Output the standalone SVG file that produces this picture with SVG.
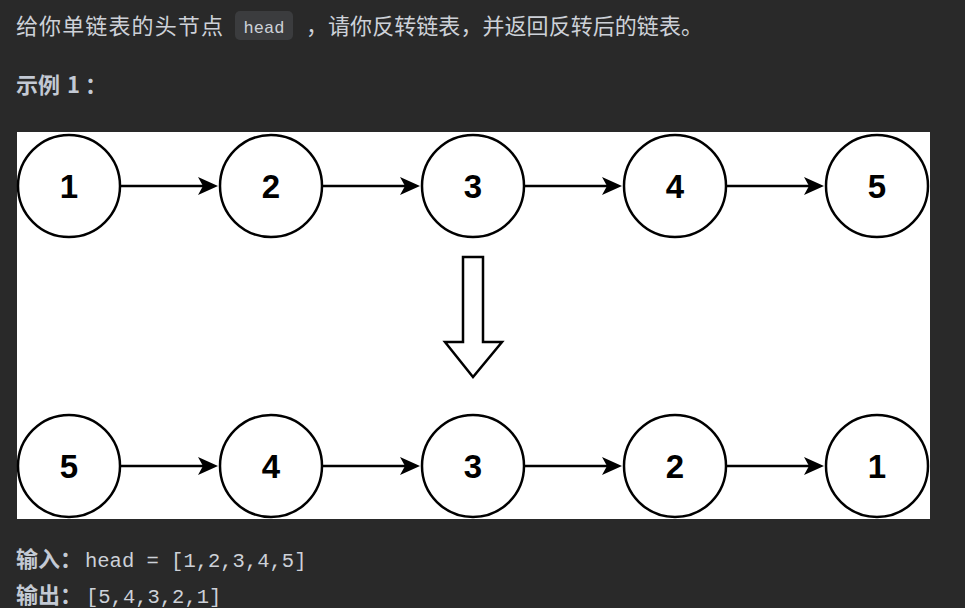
<svg xmlns="http://www.w3.org/2000/svg" width="965" height="608" viewBox="0 0 965 608">
  <style>
    .txt { font-family: "Noto Sans CJK SC", "Noto Sans", sans-serif; font-size: 22px; fill: #cdd1d8; }
    .bold { font-weight: bold; fill: #c3c9d4; }
    .mono { font-family: "Liberation Mono", "DejaVu Sans Mono", monospace; fill: #cdd1d8; }
    .node circle { fill: #ffffff; stroke: #000000; stroke-width: 2.5; }
    .node text { font-family: "Liberation Sans", Arial, sans-serif; font-size: 33px; font-weight: bold; fill: #000000; text-anchor: middle; }
    .edge { stroke: #000000; stroke-width: 2.5; fill: none; marker-end: url(#arrow); }
  </style>
  <defs>
    <marker id="arrow" markerUnits="userSpaceOnUse" viewBox="0 0 20 18" refX="15" refY="9" markerWidth="20" markerHeight="18" orient="auto">
      <path d="M0,0 L20,9 L0,18 L5,9 Z" fill="#000000"/>
    </marker>
  </defs>

  <!-- page background -->
  <rect x="0" y="0" width="965" height="608" fill="#292929"/>

  <!-- description line -->
  <text class="txt" x="16" y="34" textLength="207" lengthAdjust="spacing">给你单链表的头节点</text>
  <rect x="235" y="11" width="58" height="29" rx="5" fill="#3b3c3e"/>
  <text class="mono" x="264" y="33" font-size="17" text-anchor="middle">head</text>
  <text class="txt" x="306" y="34" textLength="397" lengthAdjust="spacing">，请你反转链表，并返回反转后的链表。</text>

  <text class="txt bold" x="16" y="93">示例<tspan x="67">1</tspan><tspan x="85">：</tspan></text>

  <!-- figure canvas -->
  <rect x="17" y="132" width="913" height="387" fill="#ffffff"/>

  <g id="connectors">
    <line class="edge" x1="121" y1="186" x2="213" y2="186"/>
    <line class="edge" x1="323" y1="186" x2="415" y2="186"/>
    <line class="edge" x1="525" y1="186" x2="617" y2="186"/>
    <line class="edge" x1="727" y1="186" x2="819" y2="186"/>

    <line class="edge" x1="121" y1="466" x2="213" y2="466"/>
    <line class="edge" x1="323" y1="466" x2="415" y2="466"/>
    <line class="edge" x1="525" y1="466" x2="617" y2="466"/>
    <line class="edge" x1="727" y1="466" x2="819" y2="466"/>

    <!-- hollow "reverse" arrow -->
    <path d="M463,257 L483,257 L483,342 L502,342 L473,377 L445,342 L463,342 Z" fill="#ffffff" stroke="#000000" stroke-width="2.5" stroke-linejoin="miter"/>
  </g>

  <!-- original list -->
  <g id="top-1" class="node"><circle cx="69" cy="186" r="51"/><text x="69" y="198">1</text></g>
  <g id="top-2" class="node"><circle cx="271" cy="186" r="51"/><text x="271" y="198">2</text></g>
  <g id="top-3" class="node"><circle cx="473" cy="186" r="51"/><text x="473" y="198">3</text></g>
  <g id="top-4" class="node"><circle cx="675" cy="186" r="51"/><text x="675" y="198">4</text></g>
  <g id="top-5" class="node"><circle cx="877" cy="186" r="51"/><text x="877" y="198">5</text></g>

  <!-- reversed list -->
  <g id="bottom-5" class="node"><circle cx="69" cy="466" r="51"/><text x="69" y="478">5</text></g>
  <g id="bottom-4" class="node"><circle cx="271" cy="466" r="51"/><text x="271" y="478">4</text></g>
  <g id="bottom-3" class="node"><circle cx="473" cy="466" r="51"/><text x="473" y="478">3</text></g>
  <g id="bottom-2" class="node"><circle cx="675" cy="466" r="51"/><text x="675" y="478">2</text></g>
  <g id="bottom-1" class="node"><circle cx="877" cy="466" r="51"/><text x="877" y="478">1</text></g>

  <!-- input / output -->
  <text class="txt bold" x="16" y="567">输入：</text>
  <text class="mono" x="85" y="567" font-size="20.5" xml:space="preserve">head = [1,2,3,4,5]</text>
  <text class="txt bold" x="16" y="603">输出：</text>
  <text class="mono" x="86" y="603" font-size="20.5">[5,4,3,2,1]</text>
</svg>
